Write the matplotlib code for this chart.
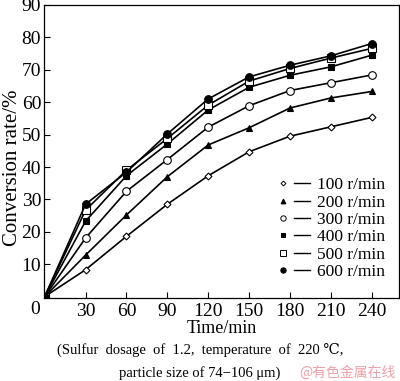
import numpy as np
import matplotlib
matplotlib.use('Agg')
import matplotlib.pyplot as plt
from matplotlib.lines import Line2D
from matplotlib.legend_handler import HandlerTuple

# Data
time_min = [0, 30, 60, 90, 120, 150, 180, 210, 240]
rate_100 = [0, 8.3, 18.6, 28.5, 37.3, 44.7, 49.5, 52.4, 55.3]
rate_200 = [0, 12.8, 25.2, 37.0, 46.8, 52.1, 58.2, 61.3, 63.3]
rate_300 = [0, 18.1, 32.5, 42.3, 52.3, 58.9, 63.6, 66.0, 68.4]
rate_400 = [0, 23.3, 37.3, 47.1, 57.6, 64.6, 68.3, 70.9, 74.5]
rate_500 = [0, 26.7, 39.0, 48.8, 59.1, 66.5, 70.4, 73.6, 76.6]
rate_600 = [0, 28.5, 38.4, 50.2, 61.0, 67.8, 71.4, 74.3, 78.1]

speeds = ['100 r/min', '200 r/min', '300 r/min', '400 r/min', '500 r/min', '600 r/min']
series = [rate_100, rate_200, rate_300, rate_400, rate_500, rate_600]
markers = ['D', '^', 'o', 's', 's', 'o']
fills = ['white', 'black', 'white', 'black', 'white', 'black']
msizes = [3.5, 5, 5.5, 5, 5.5, 5.5]

xticks = [30, 60, 90, 120, 150, 180, 210, 240]
yticks = [10, 20, 30, 40, 50, 60, 70, 80, 90]

plt.rcParams['font.family'] = ['Liberation Serif', 'DejaVu Serif']
plt.rcParams['mathtext.fontset'] = 'stix'

fig = plt.figure(figsize=(4.0, 3.81), dpi=100)
ax = fig.add_axes([0.11, 0.218, 0.8875, 0.769])

for y, m, fc, ms in zip(series, markers, fills, msizes):
    ax.plot(time_min, y, color='black', lw=1.2, marker=m, ms=ms,
            mfc=fc, mec='black', mew=0.8)

ax.set_xlim(-0.5, 260)
ax.set_ylim(-0.4, 90)
ax.set_xticks(xticks)
ax.set_yticks(yticks)
ax.tick_params(direction='in', length=4, width=0.8, labelsize=14, pad=2)
ax.tick_params(axis='x', pad=4)
for s in ax.spines.values():
    s.set_linewidth(0.9)
ax.text(-0.01, -0.012, '0', transform=ax.transAxes, ha='right', va='top', fontsize=14)

ax.set_xlabel('Time/min', fontsize=13, labelpad=0)
fig.text(0.031, 0.56, 'Conversion rate/%', rotation=90, ha='center', va='center',
         fontsize=15)

# legend: marker, then a short line
handles = []
for m, fc, ms in zip(markers, fills, msizes):
    mk = Line2D([], [], ls='none', marker=m, ms=ms * 0.7, mfc=fc, mec='black', mew=0.7)
    ln = Line2D([], [], color='black', lw=1.0)
    handles.append((mk, ln))
ax.legend(handles, speeds, handler_map={tuple: HandlerTuple(ndivide=None, pad=0.2)},
          loc='lower right', bbox_to_anchor=(0.99, 0.025), frameon=False,
          fontsize=12.5, handlelength=2.0, handletextpad=0.4, labelspacing=0.07,
          borderaxespad=0.2)

fig.text(0.5, 0.081, '(Sulfur  dosage  of  1.2,  temperature  of  220 \u2103,',
         ha='center', va='center', fontsize=10.5)
fig.text(0.5, 0.022, 'particle size of 74\u2212106 \u03bcm)',
         ha='center', va='center', fontsize=10.5)
fig.text(0.988, 0.022, '@有色金属在线', ha='right', va='center', fontsize=10,
         color='#f0a0a8', family=['Noto Sans CJK SC', 'DejaVu Sans'])

fig.savefig('out.png', dpi=100)
